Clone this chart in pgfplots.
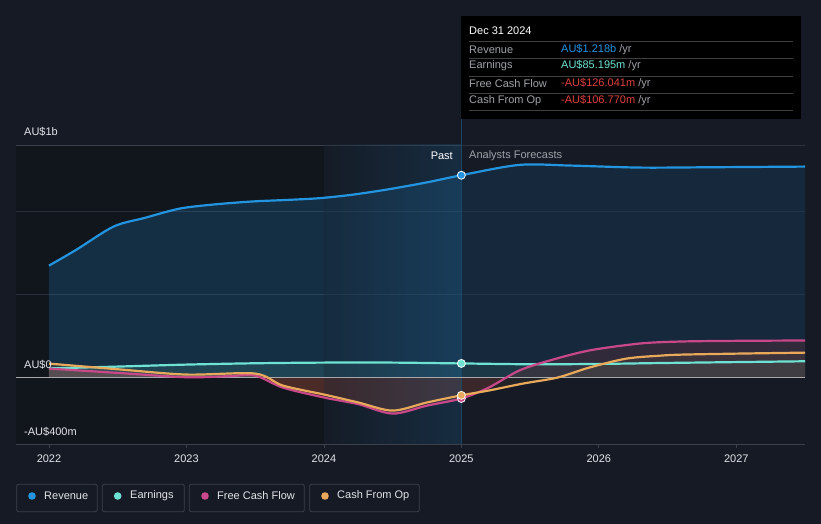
\documentclass[border=0pt]{standalone}
\usepackage{pgfplots}
\pgfplotsset{compat=1.18}
\usepackage{fontspec}
\setmainfont{Liberation Sans}
\definecolor{bg}{HTML}{151A24}
\definecolor{pastbg}{HTML}{11151C}
\definecolor{rev}{HTML}{2394DF}
\definecolor{earn}{HTML}{6FE3D3}
\definecolor{fcf}{HTML}{C8488A}
\definecolor{cfo}{HTML}{E8A95A}
\definecolor{negred}{HTML}{E0403F}
\definecolor{lbl}{HTML}{9EA2A8}
\definecolor{txt}{HTML}{E2E4E8}
\definecolor{gridc}{HTML}{2A303A}
\definecolor{boxc}{HTML}{3B414B}
\pgfplotstableread{
x y
2022.00 674
2022.20 770
2022.47 909
2022.70 962
2022.95 1017
2023.20 1042
2023.48 1060
2023.75 1070
2023.97 1080
2024.20 1100
2024.46 1132
2024.75 1175
2025.00 1218
2025.42 1280
2025.80 1276
2026.30 1264
2026.80 1266
2027.50 1270
}\revenue
\pgfplotstableread{
x y
2022.00 55
2022.50 66
2023.00 78
2023.50 86
2024.00 90
2024.50 90
2025.00 85
2025.50 80
2026.00 82
2026.50 88
2027.50 98
}\earnings
\pgfplotstableread{
x y
2022.00 54
2022.50 28
2023.00 2
2023.30 8
2023.50 12
2023.70 -60
2024.00 -120
2024.25 -160
2024.50 -217
2024.75 -169
2025.00 -126
2025.20 -60
2025.42 42
2025.64 102
2025.93 163
2026.30 205
2026.60 217
2027.00 221
2027.50 223
}\fcf
\pgfplotstableread{
x y
2022.00 84
2022.50 50
2023.00 18
2023.50 24
2023.70 -48
2024.00 -102
2024.25 -150
2024.50 -199
2024.75 -150
2025.00 -107
2025.20 -78
2025.45 -36
2025.70 0
2025.93 60
2026.20 114
2026.45 132
2026.60 138
2027.00 144
2027.50 150
}\cfo
\begin{document}
\begin{tikzpicture}[x=1pt,y=1pt,font=\fontsize{11}{13}\selectfont]
\fill[bg] (0,0) rectangle (821,524);
\useasboundingbox (0,0) rectangle (821,524);
\draw[color=rev!35!bg, line width=1pt] (461.5,508) -- (461.5,379);
\begin{axis}[at={(16pt,80pt)}, anchor=south west, scale only axis,
  width=789pt, height=299pt,
  xmin=2021.76, xmax=2027.5, ymin=-400, ymax=1400,
  axis line style={draw=none},
  xtick={2022,2023,2024,2025,2026,2027},
  xticklabels={2022,2023,2024,2025,2026,2027},
  xtick pos=bottom, tick align=outside, major tick length=4pt,
  tick style={color=boxc, line width=0.8pt},
  ytick=\empty,
  xticklabel style={text=txt, font=\fontsize{11}{13}\selectfont, yshift=-3pt},
  clip=false]
\fill[pastbg] (axis cs:2021.76,-400) rectangle (axis cs:2024,1400);
\draw[gridc, line width=0.8pt] (axis cs:2021.76,500) -- (axis cs:2027.5,500);
\draw[gridc, line width=0.8pt] (axis cs:2021.76,1000) -- (axis cs:2027.5,1000);
\draw[boxc, line width=0.8pt] (axis cs:2021.76,1400) -- (axis cs:2027.5,1400);
\draw[boxc, line width=0.8pt] (axis cs:2021.76,-400) -- (axis cs:2027.5,-400);
\addplot[draw=none, fill=rev, fill opacity=0.2, smooth, tension=0.5] table {\revenue} \closedcycle;
\addplot[draw=none, fill=earn, fill opacity=0.12, smooth, tension=0.5] table {\earnings} \closedcycle;
\addplot[draw=none, fill=negred, fill opacity=0.2, smooth, tension=0.5] table {\fcf} \closedcycle;
\addplot[draw=none, fill=cfo, fill opacity=0.1, smooth, tension=0.5] table {\cfo} \closedcycle;
\shade[left color=rev!5!bg, right color=rev!45!bg, opacity=0.35] (axis cs:2024,-400) rectangle (axis cs:2025,1400);
\fill[bg, opacity=0.35] (axis cs:2025,-400) rectangle (axis cs:2027.5,1400);
\draw[color=rev!35!bg, line width=1pt] (axis cs:2025,-400) -- (axis cs:2025,1400);
\draw[color=white!62!bg, line width=1.2pt] (axis cs:2021.76,0) -- (axis cs:2027.5,0);
\addplot[rev, line width=2.2pt, smooth, tension=0.5] table {\revenue};
\addplot[earn, line width=2.2pt, smooth, tension=0.5] table {\earnings};
\addplot[fcf, line width=2.2pt, smooth, tension=0.5] table {\fcf};
\addplot[cfo, line width=2.2pt, smooth, tension=0.5] table {\cfo};
\addplot[only marks, mark=*, mark size=4pt, mark options={fill=rev, draw=white, line width=0.8pt}] coordinates {(2025,1218)};
\addplot[only marks, mark=*, mark size=4pt, mark options={fill=earn, draw=white, line width=0.8pt}] coordinates {(2025,85)};
\addplot[only marks, mark=*, mark size=4pt, mark options={fill=fcf, draw=white, line width=0.8pt}] coordinates {(2025,-126)};
\addplot[only marks, mark=*, mark size=4pt, mark options={fill=cfo, draw=white, line width=0.8pt}] coordinates {(2025,-107)};
\end{axis}
\node[anchor=west, text=txt, inner sep=0] at (24,392) {AU\$1b};
\node[anchor=west, text=txt, inner sep=0] at (24,159) {AU\$0};
\node[anchor=west, text=txt, inner sep=0] at (24,92) {-AU\$400m};
\node[anchor=east, text=white, inner sep=0] at (453,368) {Past};
\node[anchor=west, text=lbl, inner sep=0] at (469,368) {Analysts Forecasts};
\fill[black] (461,508) rectangle (801,405);
\node[anchor=west, text=white, inner sep=0] at (469,493) {Dec 31 2024};
\foreach \yy in {482.5,466,448,430.5,413.5}{\draw[white!25!black, line width=0.7pt] (469,\yy) -- (793,\yy);}
\node[anchor=west, text=lbl, inner sep=0] at (469,474.7) {Revenue};
\node[anchor=west, text=lbl, inner sep=0] at (469,458) {Earnings};
\node[anchor=west, text=lbl, inner sep=0] at (469,440) {Free Cash Flow};
\node[anchor=west, text=lbl, inner sep=0] at (469,423) {Cash From Op};
\node[anchor=west, inner sep=0] at (561,474.7) {\textcolor{rev}{AU\$1.218b}~\textcolor{lbl}{/yr}};
\node[anchor=west, inner sep=0] at (561,458) {\textcolor{earn}{AU\$85.195m}~\textcolor{lbl}{/yr}};
\node[anchor=west, inner sep=0] at (561,440) {\textcolor{negred}{-AU\$126.041m}~\textcolor{lbl}{/yr}};
\node[anchor=west, inner sep=0] at (561,423) {\textcolor{negred}{-AU\$106.770m}~\textcolor{lbl}{/yr}};
\draw[boxc, line width=0.8pt, rounded corners=2pt] (16.7,39.7) rectangle (97.3,12.3);
\draw[boxc, line width=0.8pt, rounded corners=2pt] (102.3,39.7) rectangle (184.3,12.3);
\draw[boxc, line width=0.8pt, rounded corners=2pt] (189.3,39.7) rectangle (304.3,12.3);
\draw[boxc, line width=0.8pt, rounded corners=2pt] (309.7,39.7) rectangle (419.3,12.3);
\fill[rev] (32,28) circle (3.8);
\fill[earn] (117.7,28) circle (3.8);
\fill[fcf] (205,28) circle (3.8);
\fill[cfo] (325,28) circle (3.8);
\node[anchor=west, text=txt, inner sep=0] at (44,28) {Revenue};
\node[anchor=west, text=txt, inner sep=0] at (130,28) {Earnings};
\node[anchor=west, text=txt, inner sep=0] at (217,28) {Free Cash Flow};
\node[anchor=west, text=txt, inner sep=0] at (337,28) {Cash From Op};
\end{tikzpicture}
\end{document}
